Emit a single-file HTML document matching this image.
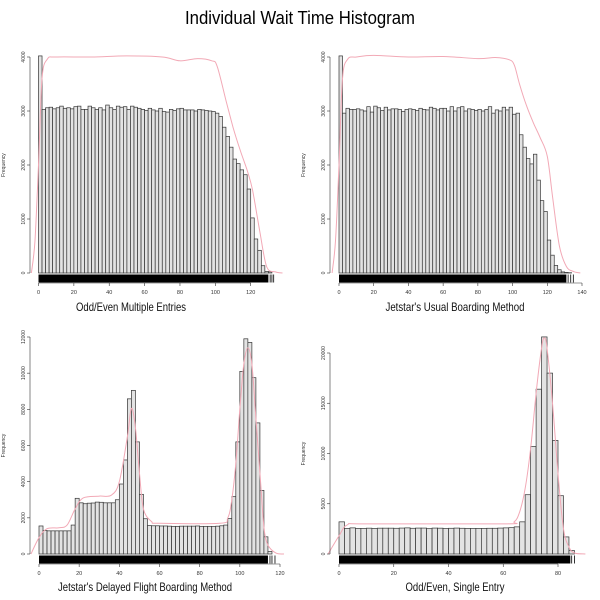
<!DOCTYPE html>
<html><head><meta charset="utf-8"><style>
body{margin:0;background:#fff}svg{display:block}
text{font-family:"Liberation Sans Narrow","Liberation Sans",sans-serif}
</style></head><body>
<svg id="c" width="600" height="600">
<text x="300" y="24" text-anchor="middle" font-size="18" textLength="230" lengthAdjust="spacingAndGlyphs">Individual Wait Time Histogram</text>
</svg>
<script>
const p1Counts=[4020,3030,3060,3070,3040,3060,3090,3050,3060,3040,3080,3090,3030,3030,3090,3060,3030,3060,3020,3110,3060,3030,3090,3070,3080,3030,3090,3070,3050,3030,3010,3050,3020,3000,3050,2990,2980,3030,3010,3040,3050,3020,3020,3020,3000,3030,3020,3010,3000,2990,2960,2900,2700,2530,2330,2110,2025,1910,1820,1555,1020,630,420,135,30,20];
const p2Counts=[4020,2960,3050,3030,3030,3040,3020,3000,3080,2980,3090,3060,3010,3070,3020,3040,3040,3030,2990,3030,3040,3030,3010,3050,3030,3020,3070,3050,3020,3050,3050,3000,3080,3000,3060,3080,3000,3040,3030,3010,3030,3000,3030,3080,2960,3020,3000,3070,3020,3070,2940,2960,2560,2330,2120,2020,2200,1720,1340,1140,610,330,140,60,20,10,5];
const p3Counts=[1550,1300,1280,1280,1280,1280,1280,1280,1600,3080,2830,2780,2810,2820,2870,2860,2830,2830,2830,3000,3870,5200,8580,9050,6200,3300,1950,1570,1560,1560,1550,1550,1540,1530,1530,1540,1540,1540,1540,1550,1530,1530,1530,1520,1540,1560,1600,1970,3170,6200,10100,11900,11700,9750,7250,3520,950,140];
const p4Counts=[3200,2550,2600,2550,2550,2570,2550,2570,2570,2570,2560,2580,2600,2560,2580,2580,2520,2580,2570,2540,2560,2580,2560,2550,2540,2550,2550,2560,2560,2580,2600,2620,2700,3200,5900,10700,16400,21600,18000,11300,5800,1700,350];
const p1DensX=[-4,-2,0,2,5,10,30,50,70,80,90,98,101,106,110,114,118,121,125,129,134,138];
const p1DensY=[0,600,2000,3600,3960,4000,4000,4020,4000,3930,3970,3930,3830,3200,2700,2280,1900,1540,800,120,20,0];
const p2DensX=[-4,-2,0,2,5,10,20,40,60,80,90,98,101,104,108,112,116,120,123,127,131,135,139];
const p2DensY=[0,600,2000,3600,3960,4000,4030,4000,4010,3970,3990,3950,3850,3500,3100,2780,2500,2160,1420,500,120,30,0];
const p3DensX=[-4,0,4,10,14,18,22,30,36,40,44,46,48,50,52,56,60,90,94,96,98,100,102,104,106,108,110,112,114,118,122];
const p3DensY=[0,900,1400,1450,1600,2500,3100,3200,3250,4000,6500,8050,7000,4500,2500,1800,1700,1700,2000,3000,5000,8000,10500,11400,10500,7500,4500,1500,500,50,0];
const p4DensX=[-4,0,3,10,60,64,66,68,70,72,74,75,76,78,80,82,84,86,90];
const p4DensY=[0,1800,2900,3000,3000,3200,4200,6500,10500,16000,20500,21500,20500,15000,8000,2500,700,100,0];
const p1Ticks=[0,20,40,60,80,100,120];
const p2Ticks=[0,20,40,60,80,100,120,140];
const p3Ticks=[0,20,40,60,80,100,120];
const p4Ticks=[0,20,40,60,80];
const p1YTicks=[0,1000,2000,3000,4000];
const p3YTicks=[0,2000,4000,6000,8000,10000,12000];
const p4YTicks=[0,5000,10000,15000,20000];
const titles=["Odd/Even Multiple Entries","Jetstar's Usual Boarding Method","Jetstar's Delayed Flight Boarding Method","Odd/Even, Single Entry"];

const NS="http://www.w3.org/2000/svg";const svg=document.getElementById('c');
function mk(t,a,parent){const e=document.createElementNS(NS,t);for(const k in a)e.setAttribute(k,a[k]);(parent||svg).appendChild(e);return e;}
function smooth(P){let d='M'+P[0][0].toFixed(1)+','+P[0][1].toFixed(1);
 for(let i=0;i<P.length-1;i++){const p0=P[Math.max(0,i-1)],p1=P[i],p2=P[i+1],p3=P[Math.min(P.length-1,i+2)];
  const c1=[p1[0]+(p2[0]-p0[0])/6,p1[1]+(p2[1]-p0[1])/6],c2=[p2[0]-(p3[0]-p1[0])/6,p2[1]-(p3[1]-p1[1])/6];
  d+=` C${c1[0].toFixed(1)},${c1[1].toFixed(1)} ${c2[0].toFixed(1)},${c2[1].toFixed(1)} ${p2[0].toFixed(1)},${p2[1].toFixed(1)}`;}
 return d;}
const panels=[
 {counts:p1Counts,dx:p1DensX,dy:p1DensY,xt:p1Ticks,yt:p1YTicks,ax:30,x0:38.5,x1:250.7,xv1:120,y0:273,y1:57,yv1:4000,rugEnd:130,rugTicks:[131,132,133],title:titles[0],ty:307,tc:131,tw:110},
 {counts:p2Counts,dx:p2DensX,dy:p2DensY,xt:p2Ticks,yt:p1YTicks,ax:330,x0:339,x1:582,xv1:140,y0:273,y1:57,yv1:4000,rugEnd:131,rugTicks:[132,133.5,135],title:titles[1],ty:307,tc:455,tw:139},
 {counts:p3Counts,dx:p3DensX,dy:p3DensY,xt:p3Ticks,yt:p3YTicks,ax:30,x0:39,x1:280,xv1:120,y0:554,y1:337,yv1:12000,rugEnd:114,rugTicks:[115,116,117.5],title:titles[2],ty:587,tc:145,tw:174},
 {counts:p4Counts,dx:p4DensX,dy:p4DensY,xt:p4Ticks,yt:p4YTicks,ax:330,x0:339,x1:558,xv1:80,y0:554,y1:353,yv1:20000,rugEnd:84.5,rugTicks:[85,86],title:titles[3],ty:587,tc:455,tw:99}
];
panels.forEach((p,i)=>{
 const g=mk('g',{});
 
 
 const xs=v=>p.x0+(p.x1-p.x0)*v/p.xv1;
 const ys=v=>p.y0-(p.y0-p.y1)*v/p.yv1;
 p.counts.forEach((c,j)=>{
  const r=mk('rect',{x:xs(j*2),y:ys(c),width:xs(j*2+2)-xs(j*2),height:p.y0-ys(c),fill:'#e3e3e3',stroke:'#333','stroke-width':0.7},g);
  
  
 });
 const P=p.dx.map((x,k)=>[xs(x),ys(p.dy[k])]);
 const dl=mk('path',{d:smooth(P),fill:'none',stroke:'#f2a9b6','stroke-width':1},g);
 
 
 const rug=mk('rect',{x:xs(0),y:p.y0+1.5,width:xs(p.rugEnd)-xs(0),height:8,fill:'#000'},g);
 
 
 p.rugTicks.forEach(t=>{mk('line',{x1:xs(t),x2:xs(t),y1:p.y0+1.5,y2:p.y0+9.5,stroke:'#000','stroke-width':0.8},g);});
 const xa=mk('line',{x1:xs(p.xt[0]),x2:xs(p.xt[p.xt.length-1]),y1:p.y0+10,y2:p.y0+10,stroke:'#333','stroke-width':0.6},g);
 
 
 p.xt.forEach(t=>{
  mk('line',{x1:xs(t),x2:xs(t),y1:p.y0+10,y2:p.y0+13,stroke:'#333','stroke-width':0.6},g);
  const tl=mk('text',{x:xs(t),y:p.y0+21,'font-size':5.5,'text-anchor':'middle',fill:'#333'},g);
  tl.textContent=t;
  
  
 });
 const ya=mk('line',{x1:p.ax,x2:p.ax,y1:ys(0),y2:ys(p.yt[p.yt.length-1]),stroke:'#333','stroke-width':0.6},g);
 
 
 p.yt.forEach(t=>{
  mk('line',{x1:p.ax-3,x2:p.ax,y1:ys(t),y2:ys(t),stroke:'#333','stroke-width':0.6},g);
  const tl=mk('text',{x:0,y:0,'font-size':5,'text-anchor':'middle',fill:'#333',transform:`translate(${p.ax-5},${ys(t)}) rotate(-90)`},g);
  tl.textContent=t;
  
  
 });
 const yt=mk('text',{x:0,y:0,'font-size':5,'text-anchor':'middle',fill:'#333',transform:`translate(${p.ax-25},${(p.y0+p.y1)/2}) rotate(-90)`},g);
 yt.textContent='Frequency';
 
 
 const tt=mk('text',{x:p.tc,y:p.ty+4,'font-size':12,'text-anchor':'middle',fill:'#111',textLength:p.tw,lengthAdjust:'spacingAndGlyphs'},g);
 tt.textContent=p.title;
 
 
});
</script>
</body></html>
